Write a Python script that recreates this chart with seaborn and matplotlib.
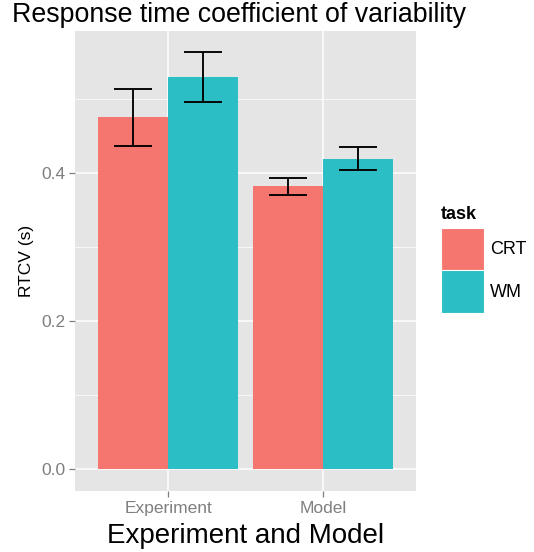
import matplotlib
matplotlib.use('Agg')
import matplotlib.pyplot as plt
import seaborn as sns
import pandas as pd
from matplotlib.patches import Patch
from matplotlib.ticker import FixedLocator

# ---- data ----
sources = ['Experiment', 'Model']
tasks = ['CRT', 'WM']
rtcv_crt = [0.476, 0.382]
rtcv_wm = [0.530, 0.419]
lower_crt = [0.437, 0.371]
upper_crt = [0.514, 0.394]
lower_wm = [0.496, 0.404]
upper_wm = [0.564, 0.435]
yticks = [0.0, 0.2, 0.4]
yticklabels = ['0.0', '0.2', '0.4']
palette = ['#F4766E', '#2BBEC5']

df = pd.DataFrame({
    'source': sources * 2,
    'task': [tasks[0]] * 2 + [tasks[1]] * 2,
    'rtcv': rtcv_crt + rtcv_wm,
    'lo': lower_crt + lower_wm,
    'hi': upper_crt + upper_wm,
})

sns.set_style({'axes.facecolor': '#E5E5E5', 'figure.facecolor': 'white'})
plt.rcParams['font.family'] = ['Liberation Sans', 'DejaVu Sans']

W, H = 534, 552
fig = plt.figure(figsize=(W / 100, H / 100), dpi=100)
ax = fig.add_axes([75 / W, 1 - 491 / H, (416 - 75) / W, (491 - 31) / H])

sns.barplot(data=df, x='source', y='rtcv', hue='task', hue_order=tasks,
            order=sources, palette=palette, width=0.9, errorbar=None,
            saturation=1, linewidth=0, legend=False, ax=ax, zorder=2)

# error bars from the bars' positions
for j, t in enumerate(tasks):
    sub = df[df.task == t].set_index('source').loc[sources]
    cont = ax.containers[j]
    xs = [b.get_x() + b.get_width() / 2 for b in cont]
    ys = sub['rtcv'].values
    ax.errorbar(xs, ys, yerr=[ys - sub['lo'].values, sub['hi'].values - ys],
                fmt='none', ecolor='black', elinewidth=1.35, capsize=13.9,
                capthick=1.35, zorder=3)

ax.set_xlim(-0.6, 1.6)
ax.set_ylim(-0.0297, 0.592)
ax.yaxis.set_major_locator(FixedLocator(yticks))
ax.set_yticklabels(yticklabels)
ax.yaxis.set_minor_locator(FixedLocator([0.1, 0.3, 0.5]))
ax.set_axisbelow(True)
ax.grid(True, which='major', color='white', linewidth=1.1)
ax.grid(True, which='minor', axis='y', color='white', linewidth=0.5)
for s in ax.spines.values():
    s.set_visible(False)
ax.tick_params(axis='both', which='major', colors='#7F7F7F', length=4,
               width=0.9, labelsize=12.5, pad=3, left=True, bottom=True)
ax.tick_params(axis='y', which='minor', length=0, left=False)
ax.set_xlabel('Experiment and Model', fontsize=20, color='black', labelpad=5)
ax.set_ylabel('RTCV (s)', fontsize=12.5, color='black', labelpad=5)

fig.text(12 / W, 1 - 15 / H, 'Response time coefficient of variability',
         fontsize=19.3, ha='left', va='center', color='black')

handles = [Patch(facecolor=palette[i], edgecolor='white', linewidth=0.8,
                 label=tasks[i]) for i in range(2)]
leg = fig.legend(handles=handles, title='task', loc='upper left',
                 bbox_to_anchor=(441 / W, 1 - 206 / H), frameon=False,
                 fontsize=13, handlelength=2.4, handleheight=3.25,
                 labelspacing=0.0, handletextpad=0.3, borderpad=0,
                 borderaxespad=0,
                 title_fontproperties={'weight': 'bold', 'size': 13})
leg._legend_box.align = 'left'
leg._legend_box.sep = 3.5

fig.savefig('out.png', dpi=100)
